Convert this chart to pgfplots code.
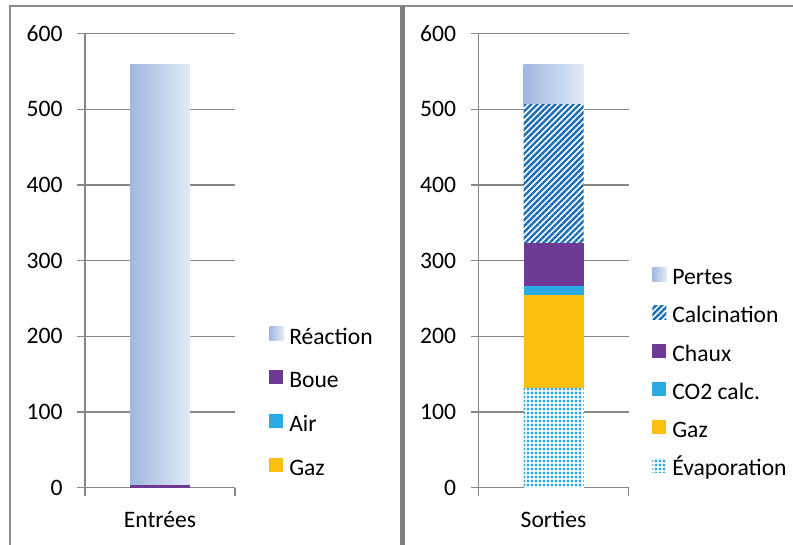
\documentclass[border=0pt]{standalone}
\usepackage{fontspec}
\setmainfont{Carlito}
\usepackage{pgfplots}
\pgfplotsset{compat=1.18}
\usetikzlibrary{patterns.meta}
\definecolor{gridgray}{HTML}{878787}
\definecolor{bordergray}{HTML}{8C8C8C}
\definecolor{gradL}{HTML}{A0B8E0}
\definecolor{gradR}{HTML}{E2EAF6}
\definecolor{cpurple}{HTML}{6F3A94}
\definecolor{ccyan}{HTML}{2AACE2}
\definecolor{cgold}{HTML}{FBBF10}
\definecolor{cstripe}{HTML}{1C6EB6}
\definecolor{cdots}{HTML}{2DA8E0}
\pgfplotsset{
  panel/.style={
    scale only axis, width=112.5pt, height=340.4pt,
    anchor=south west,
    xmin=-1, xmax=1, ymin=0, ymax=600,
    ybar stacked, bar width=45pt,
    ytick={0,100,...,600},
    xtick={-1,1}, x tick label as interval,
    axis x line*=bottom, axis y line*=left,
    axis line style={gridgray, line width=1pt},
    tick style={gridgray, line width=1pt},
    tick align=outside, major tick length=6pt,
    ymajorgrids, major grid style={gridgray, line width=1pt},
    /pgf/number format/assume math mode=true,
    font=\fontsize{17.7}{21}\selectfont,
    yticklabel style={inner sep=0pt, xshift=-10.7pt},
    xticklabel style={inner sep=0pt, anchor=base, yshift=-24pt},
    legend cell align=left, reverse legend,
    legend image code/.code={\path[##1, draw=none] (0pt,-1.4pt) rectangle (10.5pt,9.1pt);},
  }
}
\begin{document}
\begin{tikzpicture}
\useasboundingbox (0,0) rectangle (594.75pt,-408.75pt);
% left panel
\begin{axis}[panel, at={(63.75pt,-365.7pt)},
  xticklabels={Entrées},
  legend style={draw=none, fill=none, at={(1.2267,0.185)}, anchor=west, inner sep=0pt,
    row sep=15.65pt, column sep=4.5pt,
    nodes={inner sep=0pt, text height=12pt, text depth=4pt}},
]
\addplot[fill=cgold, draw=none] coordinates {(0,0)};
\addlegendentry{Gaz}
\addplot[fill=ccyan, draw=none] coordinates {(0,0)};
\addlegendentry{Air}
\addplot[fill=cpurple, draw=none] coordinates {(0,4)};
\addlegendentry{Boue}
\addplot[left color=gradL, right color=gradR, draw=none] coordinates {(0,555)};
\addlegendentry{Réaction}
\end{axis}
% right panel
\begin{axis}[panel, at={(358.9pt,-365.7pt)},
  xticklabels={Sorties},
  legend style={draw=none, fill=none, at={(1.157,0.25)}, anchor=west, inner sep=0pt,
    row sep=11.55pt, column sep=4.5pt,
    nodes={inner sep=0pt, text height=12pt, text depth=4pt}},
]
\addplot[fill=white, draw=none, postaction={pattern color=cdots, pattern={Dots[radius=1.15pt, distance=3pt]}}] coordinates {(0,132)};
\addlegendentry{Évaporation}
\addplot[fill=cgold, draw=none] coordinates {(0,123)};
\addlegendentry{Gaz}
\addplot[fill=ccyan, draw=none] coordinates {(0,12)};
\addlegendentry{CO2 calc.}
\addplot[fill=cpurple, draw=none] coordinates {(0,57)};
\addlegendentry{Chaux}
\addplot[fill=white, draw=none, postaction={pattern color=cstripe, pattern={Lines[angle=45, distance=3.2pt, line width=1.8pt]}}] coordinates {(0,183)};
\addlegendentry{Calcination}
\addplot[left color=gradL, right color=gradR, draw=none] coordinates {(0,52)};
\addlegendentry{Pertes}
\end{axis}
% panel borders
\draw[bordergray, line width=1.5pt] (7.5pt,-408.75pt) -- (7.5pt,-4.5pt) -- (594.75pt,-4.5pt);
\draw[bordergray!90!black, line width=3.75pt] (301.9pt,-4.5pt) -- (301.9pt,-408.75pt);
\end{tikzpicture}
\end{document}
